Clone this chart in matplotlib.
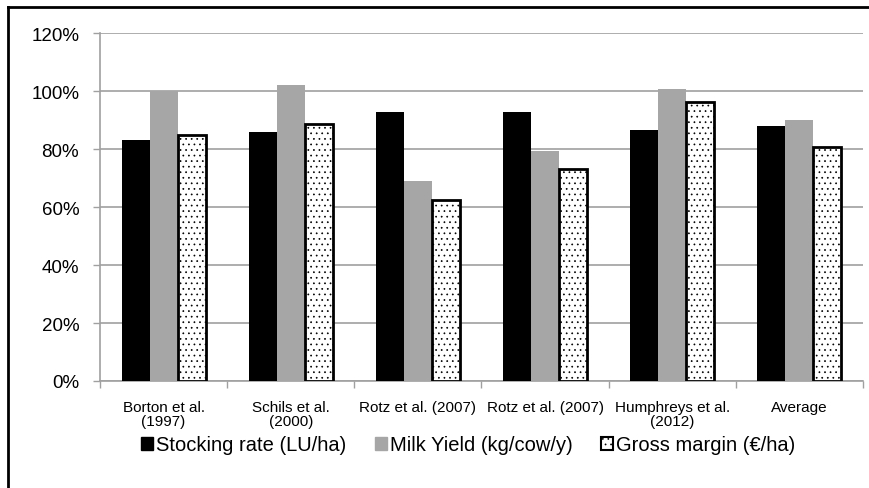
import matplotlib.pyplot as plt
import numpy as np
from matplotlib.patches import Patch
from matplotlib.lines import Line2D

plt.rcParams['font.family'] = ['Liberation Sans Narrow', 'Liberation Sans', 'DejaVu Sans']
plt.rcParams['hatch.linewidth'] = 0.5

categories = ['Borton et al.\n(1997)', 'Schils et al.\n(2000)', 'Rotz et al. (2007)',
              'Rotz et al. (2007)', 'Humphreys et al.\n(2012)', 'Average']
stocking_rate = [83.2, 85.9, 92.7, 92.7, 86.7, 88.0]
milk_yield = [100.0, 102.3, 69.1, 79.3, 100.9, 90.2]
gross_margin = [84.8, 88.7, 62.4, 73.1, 96.3, 80.8]
series_names = ['Stocking rate (LU/ha)', 'Milk Yield (kg/cow/y)', 'Gross margin (€/ha)']

fig = plt.figure(figsize=(8.69, 4.89), dpi=100)
ax = fig.add_axes([100/869, 1-382/489, 763/869, (382-34.3)/489])

x = np.arange(len(categories))
w = 0.22
ax.bar(x - w, stocking_rate, w, color='black', zorder=3)
ax.bar(x, milk_yield, w, color='#a6a6a6', zorder=3)
ax.bar(x + w, gross_margin, w, color='white', edgecolor='black', linewidth=2,
       hatch='...', zorder=3)

ax.set_xlim(-0.5, len(categories) - 0.5)
ax.set_ylim(0, 120)
ax.set_yticks(np.arange(0, 121, 20))
ax.set_yticklabels(['%d%%' % v for v in range(0, 121, 20)], fontsize=13.5)
ax.yaxis.grid(True, color='#a0a0a0', linewidth=1.2, zorder=0)
ax.set_axisbelow(True)

ax.set_xticks(np.arange(-0.5, len(categories)), minor=False)
ax.set_xticklabels([])
ax.set_xticks(x, minor=True)
ax.set_xticklabels(categories, minor=True, fontsize=11, linespacing=1.0)
ax.tick_params(axis='x', which='minor', length=0, pad=14)
ax.tick_params(axis='x', which='major', length=5, color='#a0a0a0', width=1)
ax.tick_params(axis='y', length=5, color='#a0a0a0', width=1, pad=10)

for s in ['top', 'right']:
    ax.spines[s].set_visible(False)
for s in ['left', 'bottom']:
    ax.spines[s].set_color('#a0a0a0')
    ax.spines[s].set_linewidth(1.2)

handles = [Patch(facecolor='black', edgecolor='black'),
           Patch(facecolor='#a6a6a6', edgecolor='#a6a6a6'),
           Patch(facecolor='white', edgecolor='black', linewidth=1.5, hatch='...')]
fig.legend(handles, series_names, loc='center', bbox_to_anchor=(468/869, 1-446/489),
           ncol=3, frameon=False, fontsize=14.5, handlelength=0.6, handleheight=0.6,
           handletextpad=0.15, columnspacing=1.4, borderpad=0.1)

# outer frame (left and top edges)
fig.add_artist(Line2D([8/869, 8/869], [0, 1-8/489], color='black', linewidth=2,
                      transform=fig.transFigure))
fig.add_artist(Line2D([8/869, 1], [1-8/489, 1-8/489], color='black', linewidth=2,
                      transform=fig.transFigure))

fig.savefig('out.png', dpi=100)
